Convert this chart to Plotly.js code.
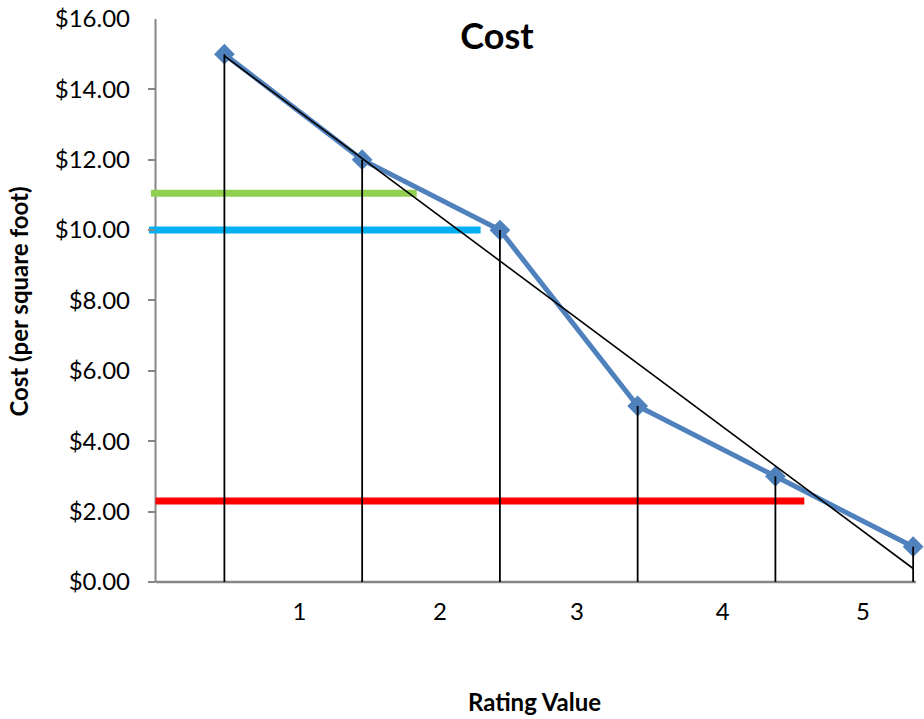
<!DOCTYPE html>
<html>
<head>
<meta charset="utf-8">
<script src="https://cdn.plot.ly/plotly-3.0.1.min.js"></script>
<style>
  html, body { margin: 0; padding: 0; background: #ffffff; }
  #chart { width: 924px; height: 719px; }
</style>
</head>
<body>
<div id="chart"></div>
<script>
// Cost per square foot for each rating step
const ratingX = [1, 2, 3, 4, 5, 6];
const costValues = [15, 12, 10, 5, 3, 1];

// Horizontal budget levels (cost, start rating, end rating)
const levelCost  = [11.05, 10, 2.3];
const levelStart = [0.467, 0.453, 0.5];
const levelEnd   = [2.396, 2.86, 5.21];
const levelColor = ['#92D050', '#00B0F0', '#FF0000'];

// Category labels along the bottom
const xTickPos  = [1.544, 2.565, 3.559, 4.617, 5.636];
const xTickText = ['1', '2', '3', '4', '5'];

// Cost axis ticks
const yTickVals = [0, 2, 4, 6, 8, 10, 12, 14, 16];
const yTickText = yTickVals.map(v => '$' + v.toFixed(2));

const FONT = 'Lato, "Open Sans", "Liberation Sans", sans-serif';
const AXIS_GREY = '#868686';

// Least-squares linear trendline through the series
function linearFit(xs, ys) {
  const n = xs.length;
  const mx = xs.reduce((a, b) => a + b, 0) / n;
  const my = ys.reduce((a, b) => a + b, 0) / n;
  let sxy = 0, sxx = 0;
  for (let i = 0; i < n; i++) {
    sxy += (xs[i] - mx) * (ys[i] - my);
    sxx += (xs[i] - mx) * (xs[i] - mx);
  }
  const slope = sxy / sxx;
  return x => my + slope * (x - mx);
}
const trend = linearFit(ratingX, costValues);
const trendX = [ratingX[0], ratingX[ratingX.length - 1]];
const trendY = trendX.map(trend);

const traces = [];

// budget levels
levelCost.forEach((c, i) => {
  traces.push({
    type: 'scatter', mode: 'lines',
    x: [levelStart[i], levelEnd[i]], y: [c, c],
    line: { color: levelColor[i], width: 7 },
    hoverinfo: 'skip', showlegend: false
  });
});

// cost series
traces.push({
  type: 'scatter', mode: 'lines+markers',
  x: ratingX, y: costValues,
  line: { color: '#4F81BD', width: 5 },
  marker: { symbol: 'diamond', size: 16, color: '#4F81BD' },
  cliponaxis: false, showlegend: false
});

// trendline
traces.push({
  type: 'scatter', mode: 'lines',
  x: trendX, y: trendY,
  line: { color: '#000000', width: 1.6 },
  hoverinfo: 'skip', showlegend: false
});

// drop lines from each point to the axis
const dropX = [], dropY = [];
ratingX.forEach((x, i) => {
  dropX.push(x, x, null);
  dropY.push(costValues[i], 0, null);
});
traces.push({
  type: 'scatter', mode: 'lines',
  x: dropX, y: dropY,
  line: { color: '#000000', width: 1.8 },
  hoverinfo: 'skip', showlegend: false
});

const layout = {
  width: 924, height: 719,
  margin: { l: 148, r: 3, t: 19, b: 135 },
  paper_bgcolor: '#ffffff',
  plot_bgcolor: '#ffffff',
  font: { family: FONT, color: '#000000' },
  showlegend: false,
  title: {
    text: '<b>Cost</b>',
    font: { family: FONT, size: 36, color: '#000000' },
    xref: 'paper', xanchor: 'center',
    yref: 'container', yanchor: 'middle'
  },
  xaxis: {
    range: [0.4454, 6.057],
    showgrid: false, zeroline: false, showline: false,
    tickmode: 'array', tickvals: xTickPos, ticktext: xTickText,
    ticks: '', ticklabelstandoff: 11,
    tickfont: { family: FONT, size: 24, color: '#000000' },
    title: {
      text: '<b>Rating Value</b>',
      font: { family: FONT, size: 24, color: '#000000' },
      standoff: 70
    }
  },
  yaxis: {
    range: [-0.06, 16],
    showgrid: false, zeroline: false, showline: false,
    tickmode: 'array', tickvals: yTickVals, ticktext: yTickText,
    ticks: 'inside', ticklen: 7, tickwidth: 2, tickcolor: AXIS_GREY,
    ticklabelstandoff: 17,
    tickfont: { family: FONT, size: 24, color: '#000000' },
    title: {
      text: '<b>Cost (per square foot)</b>',
      font: { family: FONT, size: 24, color: '#000000' },
      standoff: 19
    }
  },
  shapes: [
    { type: 'line', xref: 'x', yref: 'y', x0: 0.5, x1: 0.5, y0: 0, y1: 16,
      line: { color: AXIS_GREY, width: 2 }, layer: 'below' },
    { type: 'line', xref: 'x', yref: 'y', x0: 0.5, x1: 6.02, y0: 0, y1: 0,
      line: { color: AXIS_GREY, width: 2.5 }, layer: 'below' }
  ]
};

// title placed above the plot, centred near the middle of the chart
layout.title.x = (497 - layout.margin.l) / (924 - layout.margin.l - layout.margin.r);
layout.title.y = 1 - 36 / 719;

Plotly.newPlot('chart', traces, layout, { displayModeBar: false, responsive: false });
</script>
</body>
</html>
